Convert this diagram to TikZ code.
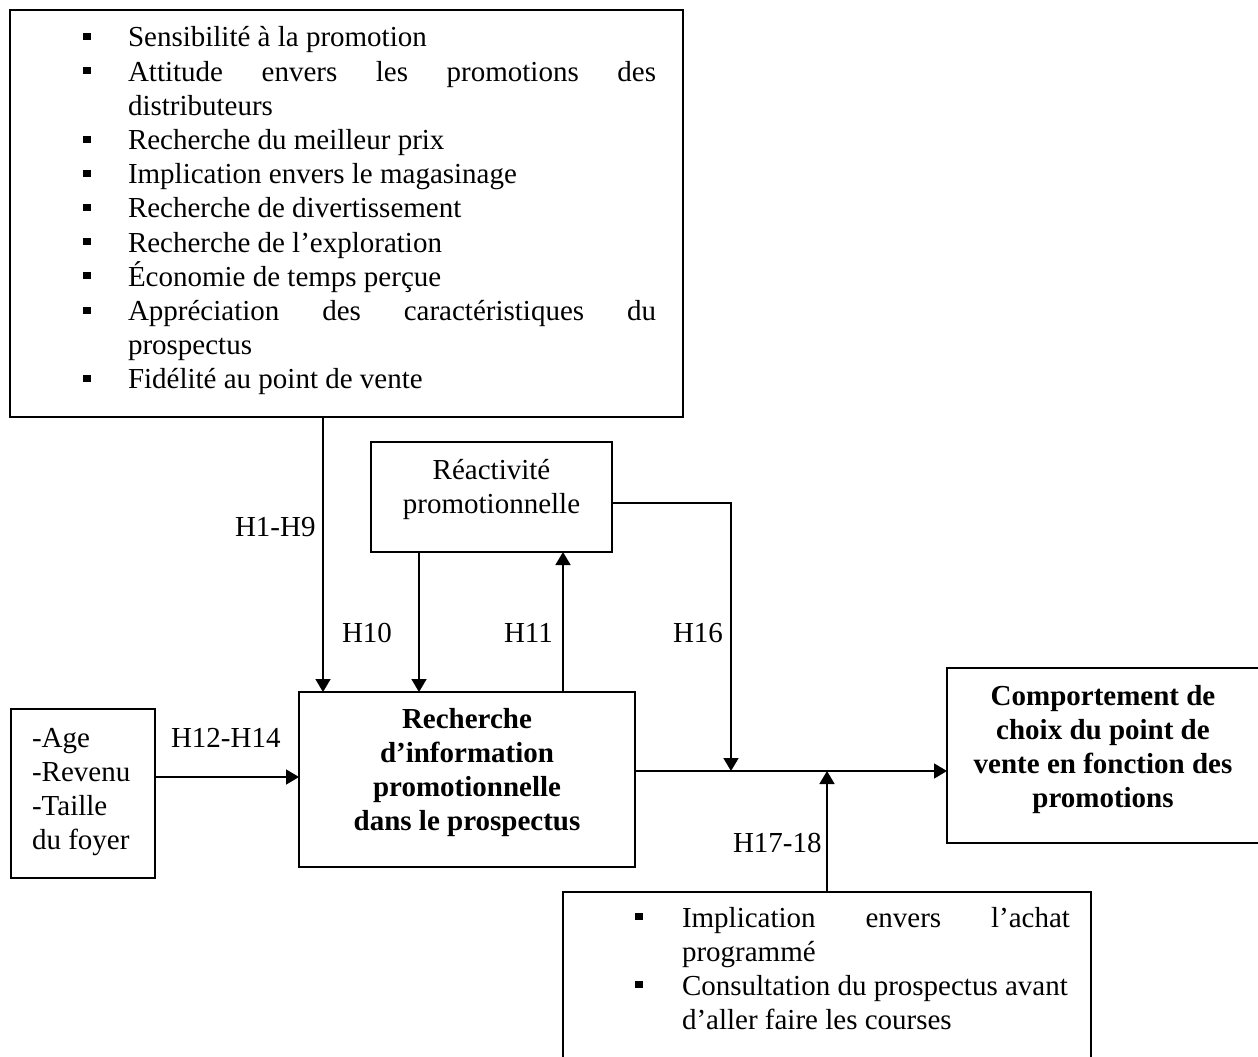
\documentclass[tikz,border=0pt]{standalone}
\usepackage{fontspec}
\setmainfont{Liberation Serif}
\usetikzlibrary{arrows.meta}
\newcommand{\blttop}{\makebox[45pt][l]{\rule[7pt]{8pt}{7pt}}}
\newcommand{\bltbot}{\makebox[47pt][l]{\rule[7pt]{8pt}{7pt}}}
\begin{document}
\begin{tikzpicture}[x=1pt,y=-1pt,
  every node/.style={font=\fontsize{29pt}{34.2pt}\selectfont, inner sep=0pt, outer sep=0pt},
  box/.style={draw, line width=1.7pt, anchor=north west, inner sep=0pt},
  txt/.style={anchor=base west},
  ctxt/.style={anchor=base},
  arr/.style={line width=1.7pt, -{Triangle[width=15pt,length=13pt]}}]
\useasboundingbox (0,0) rectangle (1258,1057);
\clip (0,0) rectangle (1258,1057);

% boxes
\node[box, minimum width=673pt, minimum height=407pt] (top) at (10,10) {};
\node[box, minimum width=241pt, minimum height=110pt] (reac) at (371,442) {};
\node[box, minimum width=336pt, minimum height=175pt] (rech) at (299,692) {};
\node[box, minimum width=144pt, minimum height=169pt] (age) at (11,709) {};
\node[box, minimum width=312pt, minimum height=175pt] (comp) at (947,668) {};
\node[box, minimum width=528pt, minimum height=200pt] (bot) at (563,892) {};

% texts
\node[txt] (toplist) at (83,47) {\parbox[t]{600pt}{%
\blttop Sensibilité à la promotion\\
\blttop\makebox[528pt][s]{Attitude envers les promotions des}\\
\hspace*{45pt}distributeurs\\
\blttop Recherche du meilleur prix\\
\blttop Implication envers le magasinage\\
\blttop Recherche de divertissement\\
\blttop Recherche de l’exploration\\
\blttop Économie de temps perçue\\
\blttop\makebox[528pt][s]{Appréciation des caractéristiques du}\\
\hspace*{45pt}prospectus\\
\blttop Fidélité au point de vente}};

\node[ctxt] (reactxt) at (491.5,479) {\parbox[t]{235pt}{\centering Réactivité\\ promotionnelle}};

\node[ctxt] (rechtxt) at (467,728) {\parbox[t]{330pt}{\centering\bfseries Recherche\\ d’information\\ promotionnelle\\ dans le prospectus}};

\node[txt] (agetxt) at (32,747) {\parbox[t]{120pt}{-Age\\ -Revenu\\ -Taille\\ du foyer}};

\node[ctxt] (comptxt) at (1103,705) {\parbox[t]{305pt}{\centering\bfseries Comportement de\\ choix du point de\\ vente en fonction des\\ promotions}};

\node[txt] (botlist) at (635,927) {\parbox[t]{460pt}{%
\bltbot\makebox[388pt][s]{Implication envers l’achat}\\
\hspace*{47pt}programmé\\
\bltbot Consultation du prospectus avant\\
\hspace*{47pt}d’aller faire les courses}};

% labels
\node[txt] (h1) at (235,536) {H1-H9};
\node[txt] (h10) at (342,642) {H10};
\node[txt] (h11) at (504,642) {H11};
\node[txt] (h16) at (673,642) {H16};
\node[txt] (h12) at (171,747) {H12-H14};
\node[txt] (h17) at (733,852) {H17-18};

% connectors
\draw[arr] (323,0 |- top.south) -- (323,0 |- rech.north);
\draw[arr] (419,0 |- reac.south) -- (419,0 |- rech.north);
\draw[arr] (563,0 |- rech.north) -- (563,0 |- reac.south);
\draw[arr] ([yshift=-6pt]reac.east) -| (731,771);
\draw[arr] (rech.east |- 0,771) -- (comp.west |- 0,771);
\draw[arr] (827,0 |- bot.north) -- (827,771);
\draw[arr] (age.east |- 0,777) -- (rech.west |- 0,777);
\end{tikzpicture}
\end{document}
